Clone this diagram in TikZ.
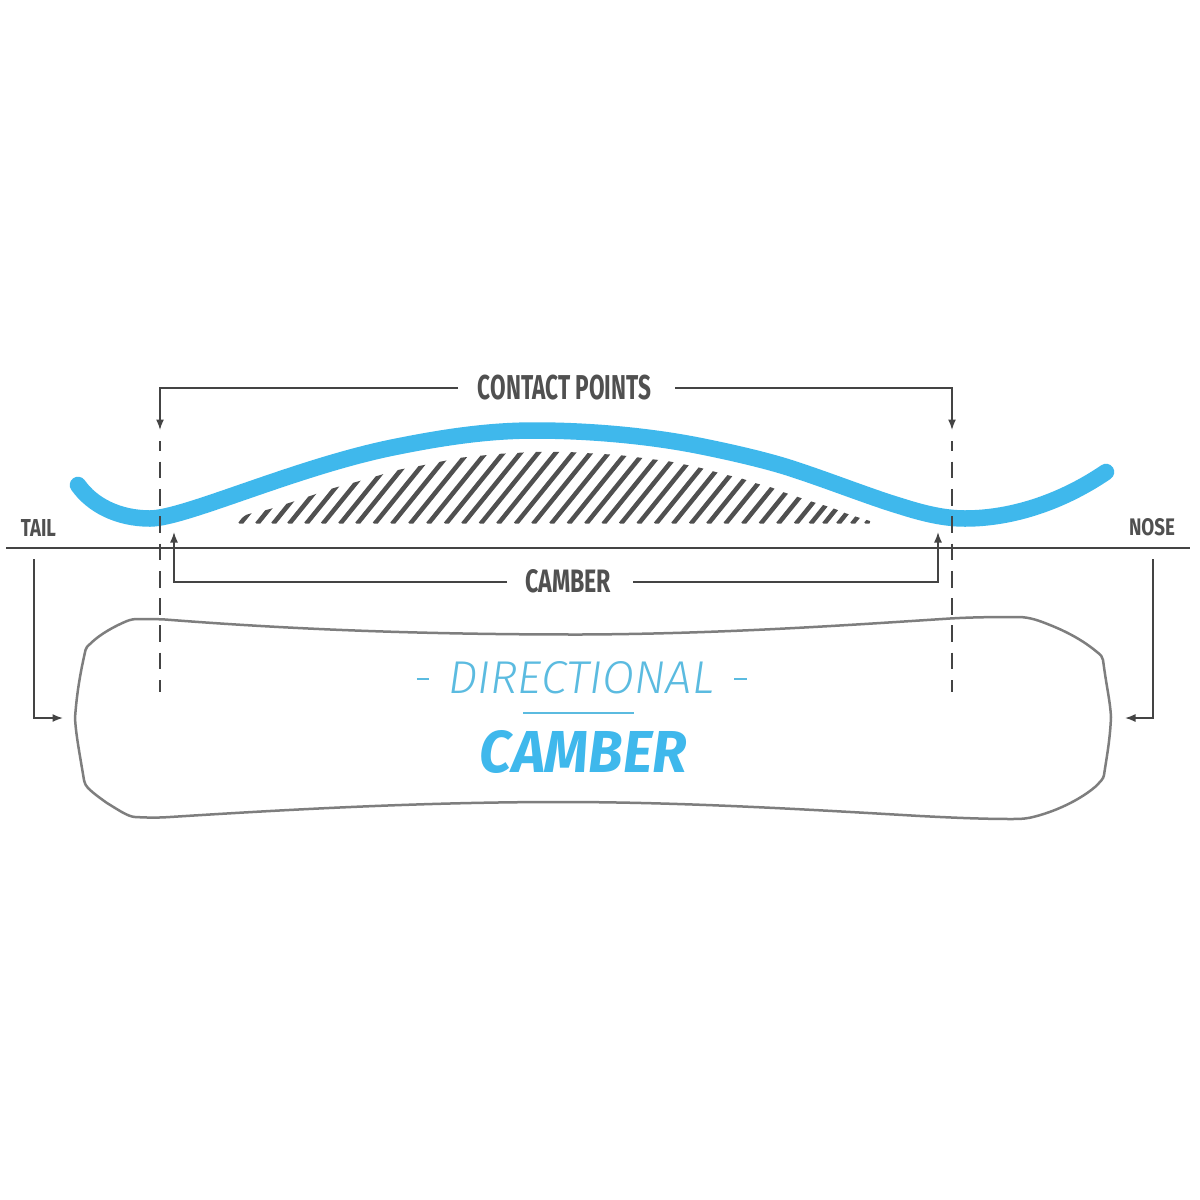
\documentclass[tikz,border=0pt]{standalone}
\usepackage{fontspec}
\usepackage{graphicx}
\usetikzlibrary{arrows.meta}
\setmainfont{Fira Sans}
\newfontfamily\dirfont[ItalicFont={Fira Sans Light Italic}]{Fira Sans Light}
\definecolor{ink}{HTML}{444444}
\definecolor{inkb}{HTML}{505050}
\definecolor{sky}{HTML}{3FB8EC}
\definecolor{skyl}{HTML}{5BBBE0}
\definecolor{board}{HTML}{7E7E7E}
\newcommand{\fitlabel}[3]{\resizebox{#1pt}{#2pt}{#3}}
\tikzset{
  lab/.style={inner sep=0pt,outer sep=0pt,text=inkb,font=\bfseries},
  conn/.style={draw=ink,line width=1.6pt},
  arr/.style={conn,-{Latex[length=10.5pt,width=8pt]}},
  guide/.style={draw=ink,line width=1.6pt,dash pattern=on 16.7pt off 10.6pt,dash phase=6.7pt},
  ski/.style={draw=sky,line width=16.5pt,line cap=round},
  hatch/.style={draw=inkb,line width=4.5pt},
  outline/.style={draw=board,line width=2.5pt,line join=round}
}
\begin{document}
\begin{tikzpicture}[x=1pt,y=-1pt]
\useasboundingbox (0,0) rectangle (1200,1200);
\fill[white] (0,0) rectangle (1200,1200);
% hatching
\begin{scope}
\clip plot[smooth,tension=0.5] coordinates {(238,523.5) (246,515) (270,509) (292,502) (313,495) (334,488) (356,482) (377,476) (398,470) (419,466) (439,462) (459,458) (478,456) (497,454) (515,453) (533,452) (552,452) (568,452) (585,453) (602,454) (618,455) (635,457) (650,459) (667,461) (682,464) (697,467) (712,471) (727,475) (740,478) (755,483) (770,487) (783,492) (798,497) (813,502) (823,505) (835,509) (845,513) (857,517) (870,521)} -- (870,523.5) -- cycle;
\foreach \b in {240,257,273,289,306,322.7,340,357,374.5,392,410,428,445.7,463,480.5,498,515.7,533,551,568.5,586,603.3,620.7,638.3,655.7,673,690.7,708,725.3,743,760.5,778,795.7,810.5,824,838,852,866}
  \draw[hatch] (\b,524) -- ++(64,-79);
\end{scope}
% ground line
\coordinate (gl) at (6,548);
\coordinate (gr) at (1190,548);
\draw[conn] (gl) -- (gr);
% ski profile
\draw[ski] (78,485) .. controls (92,505) and (118,518.5) .. (150,518.5)
  .. controls (185,518.5) and (300,465) .. (400,446)
  .. controls (460,434) and (500,430.5) .. (535,430.5)
  .. controls (590,430.5) and (650,436) .. (700,446)
  .. controls (730,452) and (765,460) .. (790,468)
  .. controls (830,481) and (870,497) .. (900,506)
  .. controls (925,514) and (945,518.5) .. (965,518.5)
  .. controls (1015,518.5) and (1065,500) .. (1106,472);
% board outline
\draw[outline] (75,718) .. controls (77,690) and (81,670) .. (85.5,650)
  .. controls (86,647) and (88,646) .. (90,644)
  .. controls (100,634) and (115,626) .. (127,621)
  .. controls (131,619.5) and (134,619) .. (138,619)
  .. controls (148,619) and (155,619) .. (165,619.5)
  .. controls (300,630) and (430,634.5) .. (580,634.5)
  .. controls (720,634) and (850,625) .. (950,618.5)
  .. controls (975,617) and (1000,617) .. (1018,617)
  .. controls (1030,617) and (1040,621) .. (1050,625)
  .. controls (1070,633) and (1085,642) .. (1097,652)
  .. controls (1101,655) and (1102.5,657) .. (1103,660)
  .. controls (1107,690) and (1110,700) .. (1111,717)
  .. controls (1110,740) and (1107,755) .. (1104,775)
  .. controls (1103.5,779) and (1100,782) .. (1095,787)
  .. controls (1082,798) and (1060,810) .. (1035,816.5)
  .. controls (1028,818.5) and (1022,819) .. (1012,819)
  .. controls (980,819) and (950,817.5) .. (920,816)
  .. controls (800,809) and (680,802) .. (560,802)
  .. controls (420,802) and (280,810) .. (170,817)
  .. controls (155,818) and (145,817.5) .. (135,817)
  .. controls (128,816.5) and (120,811) .. (107,803)
  .. controls (100,798) and (93,793) .. (88,788)
  .. controls (86,786) and (85,784) .. (84,780)
  .. controls (79,750) and (76,735) .. (75,718) -- cycle;
% labels
\node[lab] (contact) at (564.5,387.5) {\fitlabel{173}{24.5}{CONTACT POINTS}};
\node[lab] (camberlab) at (568,581.5) {\fitlabel{86}{23}{CAMBER}};
\node[lab] (tail) at (38.5,527.5) {\fitlabel{35}{17}{TAIL}};
\node[lab] (nose) at (1152,527.5) {\fitlabel{46}{17}{NOSE}};
\node[inner sep=0pt,text=skyl] (dirtxt) at (581,678) {\fitlabel{266}{32}{\dirfont\itshape DIRECTIONAL}};
\node[inner sep=0pt,text=sky,font=\bfseries\itshape] (bigcamber) at (583.5,752) {\fitlabel{207}{42}{CAMBER}};
\node[inner sep=0pt,text=skyl] (dashl) at (423,679) {\fitlabel{12.5}{2}{\rule{10pt}{2pt}}};
\node[inner sep=0pt,text=skyl] (dashr) at (740.5,679) {\fitlabel{12.5}{2}{\rule{10pt}{2pt}}};
% separator
\coordinate (sepl) at (523,713);
\coordinate (sepr) at (634,713);
\draw[draw=skyl,line width=1.6pt] (sepl) -- (sepr);
% contact points connector
\coordinate (cl) at (160,388);
\coordinate (cr) at (952,388);
\coordinate (clt) at (160,430);
\coordinate (crt) at (952,430);
\draw[arr] (458,388) -- (cl) -- (clt);
\draw[arr] (675,388) -- (cr) -- (crt);
% camber connector
\coordinate (bl) at (174,582);
\coordinate (br) at (938,582);
\coordinate (blt) at (174,532);
\coordinate (brt) at (938,532);
\draw[arr] (507,582) -- (bl) -- (blt);
\draw[arr] (633,582) -- (br) -- (brt);
% tail / nose connectors
\coordinate (ts) at (34,559);
\coordinate (tc) at (34,718);
\coordinate (te) at (63,718);
\coordinate (ns) at (1153,559);
\coordinate (nc) at (1153,718);
\coordinate (ne) at (1125,718);
\draw[arr] (ts) -- (tc) -- (te);
\draw[arr] (ns) -- (nc) -- (ne);
% contact-point guides
\coordinate (g1a) at (160,441);
\coordinate (g1b) at (160,692);
\coordinate (g2a) at (952,441);
\coordinate (g2b) at (952,692);
\draw[guide] (g1a) -- (g1b);
\draw[guide] (g2a) -- (g2b);
\end{tikzpicture}
\end{document}
